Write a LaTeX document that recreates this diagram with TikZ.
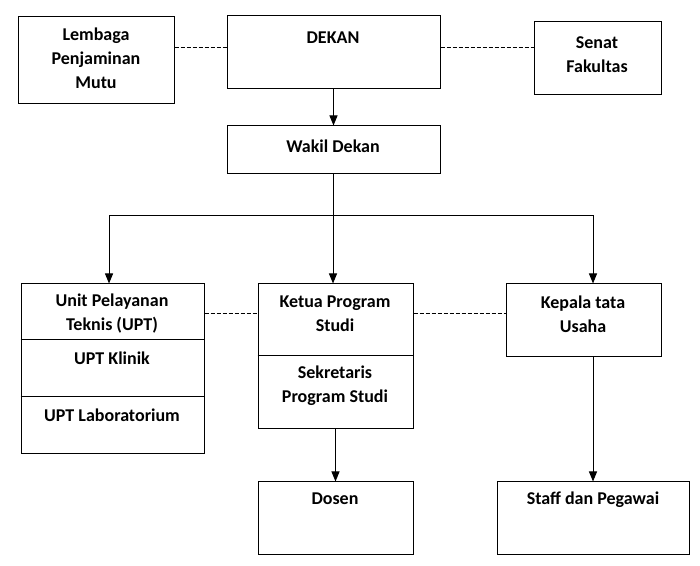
\documentclass[tikz,border=0pt]{standalone}
\usepackage{fontspec}
\setmainfont{Carlito}
\usetikzlibrary{arrows.meta}

\tikzset{every picture/.style={line width=0.75pt}}
\tikzset{
  kotak/.style={draw, rectangle, inner sep=0pt},
  teks/.style={font=\bfseries\fontsize{13.5pt}{18pt}\selectfont, align=center, inner sep=0.75pt},
  putus/.style={dash pattern=on 3pt off 1.5pt},
  panah/.style={-{Triangle[length=7.5pt,width=6pt]}}
}

\begin{document}
\begin{tikzpicture}[x=0.75pt,y=0.75pt,yscale=-1,xscale=1]
        \useasboundingbox (0,0) rectangle (700,566);

        %Shape: Rectangle [id:lpm] 
        \node [kotak, minimum width=117pt, minimum height=65.25pt] (lpm) at (96,60.5) {};
        %Shape: Rectangle [id:dekan] 
        \node [kotak, minimum width=159.75pt, minimum height=54.75pt] (dekan) at (333.5,52.5) {};
        %Shape: Rectangle [id:senat] 
        \node [kotak, minimum width=95.25pt, minimum height=54.75pt] (senat) at (597.5,58.5) {};
        %Shape: Rectangle [id:wakil] 
        \node [kotak, minimum width=159.75pt, minimum height=36pt] (wakil) at (333.5,150) {};
        %Shape: Rectangle [id:upt] 
        \node [kotak, minimum width=137.25pt, minimum height=127.5pt] (upt) at (112.5,369) {};
        %Shape: Rectangle [id:kaprodi] 
        \node [kotak, minimum width=116.25pt, minimum height=108.75pt] (kaprodi) at (335.5,356.5) {};
        %Shape: Rectangle [id:ktu] 
        \node [kotak, minimum width=116.25pt, minimum height=54.75pt] (ktu) at (583.5,320.5) {};
        %Shape: Rectangle [id:dosen] 
        \node [kotak, minimum width=116.25pt, minimum height=54pt] (dosen) at (335.5,518) {};
        %Shape: Rectangle [id:staff] 
        \node [kotak, minimum width=144pt, minimum height=54pt] (staff) at (593,518) {};

        %Straight Lines [id:sekat] 
        \draw (upt.west |- 0,340) -- (upt.east |- 0,340) ;
        \draw (upt.west |- 0,397) -- (upt.east |- 0,397) ;
        \draw (kaprodi.west |- 0,356) -- (kaprodi.east |- 0,356) ;

        %Straight Lines [id:putus] 
        \draw [putus] (lpm.east |- 0,48) -- (dekan.west |- 0,48) ;
        \draw [putus] (dekan.east |- 0,48) -- (senat.west |- 0,48) ;
        \draw [putus] (upt.east |- 0,314) -- (kaprodi.west |- 0,314) ;
        \draw [putus] (kaprodi.east |- 0,314) -- (ktu.west |- 0,314) ;

        %Straight Lines [id:panah] 
        \coordinate (cabang) at (333,216);
        \draw [panah] (dekan.south) -- (wakil.north) ;
        \draw (wakil.south) -- (wakil.south |- cabang) ;
        \draw [panah] (cabang) -| ([xshift=-2.6pt]upt.north) ;
        \draw [panah] (cabang) -- (cabang |- kaprodi.north) ;
        \draw [panah] (cabang) -| (staff.north |- ktu.north) ;
        \draw [panah] (kaprodi.south) -- (dosen.north) ;
        \draw [panah] (ktu.south -| staff.north) -- (staff.north) ;

        % Text Node
        \node [teks] (tlpm) at (96,58) {Lembaga\\Penjaminan\\Mutu};
        % Text Node
        \node [teks] (tdekan) at (333,38) {DEKAN};
        % Text Node
        \node [teks] (tsenat) at (597,55) {Senat\\Fakultas};
        % Text Node
        \node [teks] (twakil) at (333,146) {Wakil Dekan};
        % Text Node
        \node [teks] (tupt) at (112,314) {Unit Pelayanan\\Teknis (UPT)};
        % Text Node
        \node [teks] (tklinik) at (112,358) {UPT Klinik};
        % Text Node
        \node [teks] (tlab) at (112,415) {UPT Laboratorium};
        % Text Node
        \node [teks] (tkaprodi) at (335,314) {Ketua Program\\Studi};
        % Text Node
        \node [teks] (tsekprodi) at (335,386) {Sekretaris\\Program Studi};
        % Text Node
        \node [teks] (tktu) at (583,314) {Kepala tata\\Usaha};
        % Text Node
        \node [teks] (tdosen) at (335,499) {Dosen};
        % Text Node
        \node [teks] (tstaff) at (593,500) {Staff dan Pegawai};

\end{tikzpicture}
\end{document}
